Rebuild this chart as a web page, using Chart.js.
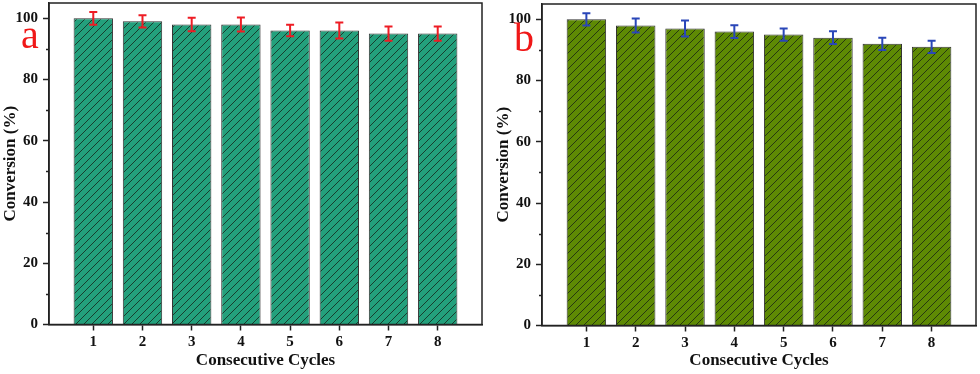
<!DOCTYPE html>
<html>
<head>
<meta charset="utf-8">
<script src="https://cdn.jsdelivr.net/npm/chart.js@4"></script>
<style>
  body { margin: 0; background: #fff; }
  .panel { position: absolute; top: 0; height: 374px; }
  #pa { left: 0; width: 490px; }
  #pb { left: 493px; width: 487px; }
</style>
</head>
<body>
<div class="panel" id="pa"><canvas id="chartA"></canvas></div>
<div class="panel" id="pb"><canvas id="chartB"></canvas></div>
<script>
const cycles = [1, 2, 3, 4, 5, 6, 7, 8];
const convA = [100, 99, 98, 98, 96, 96, 95, 95];
const errA = [2.1, 2.0, 2.2, 2.3, 1.9, 2.6, 2.3, 2.3];
const convB = [100, 98, 97, 96, 95, 94, 92, 91];
const errB = [2.0, 2.3, 2.6, 2.1, 2.0, 2.1, 2.0, 2.0];
const yTicks = [0, 20, 40, 60, 80, 100];
const yMinor = [10, 30, 50, 70, 90];

const serif = "'Liberation Serif', 'Times New Roman', serif";

function hatch(color) {
    const s = 8;
    const c = document.createElement('canvas');
    c.width = s; c.height = s;
    const g = c.getContext('2d');
    g.fillStyle = color;
    g.fillRect(0, 0, s, s);
    g.strokeStyle = 'rgba(20,30,20,0.75)';
    g.lineWidth = 1;
    g.beginPath();
    g.moveTo(-1, s + 1); g.lineTo(s + 1, -1);
    g.moveTo(-1, 1); g.lineTo(1, -1);
    g.moveTo(s - 1, s + 1); g.lineTo(s + 1, s - 1);
    g.stroke();
    return g.createPattern(c, 'repeat');
}

// error bars, frame, minor ticks and the panel letter
const extras = {
    id: 'extras',
    afterDatasetsDraw(chart, args, opts) {
        const ctx = chart.ctx;
        const y = chart.scales.y;
        const meta = chart.getDatasetMeta(0);
        ctx.save();
        ctx.strokeStyle = opts.errColor;
        ctx.lineWidth = 2;
        meta.data.forEach((bar, i) => {
            const v = opts.values[i], e = opts.errors[i];
            const top = y.getPixelForValue(v + e);
            const bot = y.getPixelForValue(v - e);
            ctx.beginPath();
            ctx.moveTo(bar.x, top); ctx.lineTo(bar.x, bot);
            ctx.moveTo(bar.x - 4, top); ctx.lineTo(bar.x + 4, top);
            ctx.moveTo(bar.x - 4, bot); ctx.lineTo(bar.x + 4, bot);
            ctx.stroke();
        });
        ctx.restore();
    },
    afterDraw(chart, args, opts) {
        const ctx = chart.ctx;
        const a = chart.chartArea;
        const y = chart.scales.y;
        ctx.save();
        ctx.strokeStyle = '#222';
        ctx.lineWidth = 1.5;
        ctx.strokeRect(a.left, a.top, a.right - a.left, a.bottom - a.top);
        ctx.beginPath();
        yMinor.forEach(v => {
            const py = Math.round(y.getPixelForValue(v)) + 0.5;
            ctx.moveTo(a.left - 3, py); ctx.lineTo(a.left, py);
        });
        ctx.stroke();
        ctx.fillStyle = '#f01818';
        ctx.font = '40px ' + serif;
        ctx.textAlign = 'left';
        ctx.textBaseline = 'alphabetic';
        ctx.fillText(opts.letter, 21, opts.letterY);
        ctx.restore();
    }
};

function makeChart(id, values, errors, color, errColor, letter, letterY, padTop, padRight) {
    const ctx = document.getElementById(id).getContext('2d');
    return new Chart(ctx, {
        type: 'bar',
        data: {
            datasets: [{
                data: cycles.map((c, i) => ({ x: c, y: values[i] })),
                backgroundColor: hatch(color),
                borderColor: '#333',
                borderWidth: 1,
                categoryPercentage: 1,
                barPercentage: 0.8
            }]
        },
        options: {
            responsive: true,
            maintainAspectRatio: false,
            animation: false,
            layout: { padding: { top: padTop, right: padRight, left: 0, bottom: 0 } },
            plugins: {
                legend: { display: false },
                tooltip: { enabled: false },
                extras: { values: values, errors: errors, errColor: errColor, letter: letter, letterY: letterY }
            },
            scales: {
                x: {
                    type: 'linear',
                    offset: false,
                    min: 0.1,
                    max: 8.9,
                    afterBuildTicks: s => { s.ticks = cycles.map(v => ({ value: v })); },
                    afterFit: s => { s.height = 374 - padTop - 321.5; s.paddingLeft = 0; s.paddingRight = 0; },
                    grid: { offset: false, drawOnChartArea: false, tickLength: 6, color: '#222', tickWidth: 1.5 },
                    border: { color: '#222', width: 1.5 },
                    ticks: { color: '#111', padding: 3, font: { family: serif, size: 15, weight: 'bold' } },
                    title: {
                        display: true, text: 'Consecutive Cycles', color: '#111',
                        padding: { top: 0, bottom: 3 },
                        font: { family: serif, size: 17, weight: 'bold' }
                    }
                },
                y: {
                    min: 0,
                    max: 105,
                    afterBuildTicks: s => { s.ticks = yTicks.map(v => ({ value: v })); },
                    afterFit: s => { s.width = 49; s.paddingTop = 0; s.paddingBottom = 0; },
                    grid: { drawOnChartArea: false, tickLength: 6, color: '#222', tickWidth: 1.5 },
                    border: { color: '#222', width: 1.5 },
                    ticks: { color: '#111', padding: 5, font: { family: serif, size: 15, weight: 'bold' } },
                    title: {
                        display: true, text: 'Conversion (%)', color: '#111',
                        padding: { top: 0, bottom: 0 },
                        font: { family: serif, size: 17, weight: 'bold' }
                    }
                }
            }
        },
        plugins: [extras]
    });
}

makeChart('chartA', convA, errA, '#23a07c', '#ee1c24', 'a', 48, 3, 8);
makeChart('chartB', convB, errB, '#5e8a04', '#2a46b8', 'b', 51, 4, 4);
</script>
</body>
</html>
